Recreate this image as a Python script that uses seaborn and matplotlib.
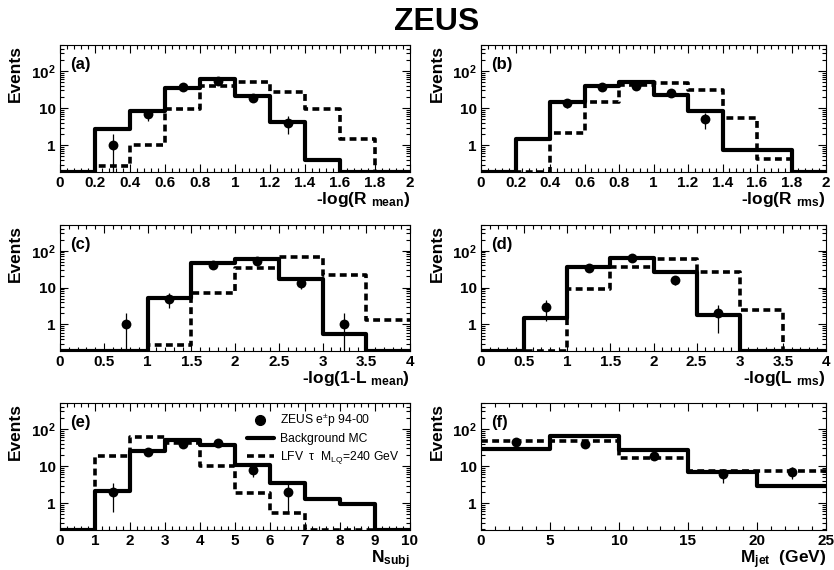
import numpy as np
import pandas as pd
import seaborn as sns
import matplotlib.pyplot as plt
from matplotlib.lines import Line2D
from matplotlib.ticker import (FixedLocator, LogLocator, NullFormatter,
                               MultipleLocator, AutoMinorLocator, FuncFormatter)

sns.set_style("ticks")
plt.rcParams['font.family'] = ['Liberation Sans', 'DejaVu Sans']
plt.rcParams['mathtext.fontset'] = 'custom'
plt.rcParams['mathtext.rm'] = 'Liberation Sans'
plt.rcParams['mathtext.default'] = 'regular'
for key in ['text.color', 'axes.labelcolor', 'xtick.color', 'ytick.color',
            'axes.edgecolor']:
    plt.rcParams[key] = 'black'

# (a) -log(R_mean), bins of 0.2 from 0 to 2
a_bkg = [0, 2.8, 8.1, 35, 62, 21, 4.3, 0.41, 0, 0]
a_lfv = [0, 0.27, 1.0, 9.4, 40, 51, 27, 9.4, 1.5, 0]
a_data = [0, 1, 7, 36, 55, 19, 4, 0, 0, 0]

# (b) -log(R_rms)
b_bkg = [0, 1.45, 15, 39, 51, 23, 8.1, 0.76, 0.76, 0]
b_lfv = [0, 0, 2.1, 14.5, 41, 48, 30, 5.3, 0.43, 0]
b_data = [0, 0, 14, 36, 40, 25, 5, 0, 0, 0]

# (c) -log(1-L_mean), bins of 0.5 from 0 to 4
c_bkg = [0, 0, 5.3, 47, 59, 17, 0.55, 0]
c_lfv = [0, 0, 0.27, 7.1, 35, 66, 22, 1.3]
c_data = [0, 1, 5, 40, 54, 13, 1, 0]

# (d) -log(L_rms)
d_bkg = [0, 1.45, 37, 63, 27, 1.85, 0, 0]
d_lfv = [0, 0, 8.9, 36, 59, 26, 2.5, 0]
d_data = [0, 3, 35, 62, 16, 2, 0, 0]

# (e) N_subj, bins of 1 from 0 to 10
e_bkg = [0, 2.2, 26, 50, 37, 10.7, 3.4, 1.28, 0.96, 0]
e_lfv = [0, 19, 59, 41, 10, 1.9, 0.56, 0, 0, 0]
e_data = [0, 2, 24, 39, 41, 8, 2, 0, 0, 0]

# (f) M_jet, bins of 5 GeV from 0 to 25
f_bkg = [28, 66, 27, 6.8, 2.9]
f_lfv = [48, 47, 17, 7.5, 7.5]
f_data = [44, 39, 19, 6, 7]

panels = [
    ("(a)", (0, 2), 10, 0.2, r"-log(R $_{mean}$)", a_bkg, a_lfv, a_data),
    ("(b)", (0, 2), 10, 0.2, r"-log(R $_{rms}$)", b_bkg, b_lfv, b_data),
    ("(c)", (0, 4), 8, 0.5, r"-log(1-L $_{mean}$)", c_bkg, c_lfv, c_data),
    ("(d)", (0, 4), 8, 0.5, r"-log(L $_{rms}$)", d_bkg, d_lfv, d_data),
    ("(e)", (0, 10), 10, 1, r"N$_{subj}$", e_bkg, e_lfv, e_data),
    ("(f)", (0, 25), 5, 5, r"M$_{jet}$  (GeV)", f_bkg, f_lfv, f_data),
]

YLO, YHI = 0.19, 500
W, H = 834, 570
col_left = [60, 481]
col_width = [350, 345]
row_top = [45, 225, 403]
row_bot = [172, 351, 530]

dash = (0, (1.9, 1.2))

fig = plt.figure(figsize=(W / 100, H / 100), dpi=100)

for i, (tag, xr, nb, major, xlabel, bkg, lfv, data) in enumerate(panels):
    r, c = divmod(i, 2)
    ax = fig.add_axes([col_left[c] / W, 1 - row_bot[r] / H,
                       col_width[c] / W, (row_bot[r] - row_top[r]) / H])
    edges = np.linspace(xr[0], xr[1], nb + 1)
    centers = 0.5 * (edges[:-1] + edges[1:])
    df = pd.DataFrame({"x": centers,
                       "bkg": np.clip(bkg, YLO, None),
                       "lfv": np.clip(lfv, YLO, None),
                       "data": np.asarray(data, dtype=float)})

    sns.histplot(data=df, x="x", weights="lfv", bins=list(edges),
                 element="step", fill=False, color="black", linewidth=2.6,
                 linestyle=dash, ax=ax)
    sns.histplot(data=df, x="x", weights="bkg", bins=list(edges),
                 element="step", fill=False, color="black", linewidth=3.0,
                 ax=ax)

    pts = df[df["data"] > 0]
    ax.errorbar(pts["x"], pts["data"], yerr=np.sqrt(pts["data"]), fmt="none",
                ecolor="black", elinewidth=0.9, capsize=0, zorder=4)
    sns.scatterplot(data=pts, x="x", y="data", color="black", s=50,
                    edgecolor="black", linewidth=0, ax=ax, zorder=5)

    ax.set_yscale("log")
    ax.set_xlim(*xr)
    ax.set_ylim(YLO, YHI)

    ax.yaxis.set_major_locator(FixedLocator([1, 10, 100]))
    ax.set_yticklabels(["1", "10", "10$^{2}$"])
    ax.yaxis.set_minor_locator(LogLocator(base=10, subs=np.arange(2, 10)))
    ax.yaxis.set_minor_formatter(NullFormatter())
    ax.xaxis.set_major_locator(MultipleLocator(major))
    ax.xaxis.set_minor_locator(AutoMinorLocator(5))
    ax.xaxis.set_major_formatter(FuncFormatter(lambda v, p: f"{v:g}"))

    ax.tick_params(which="both", direction="in", top=True, right=True,
                   width=0.8, color="black")
    ax.tick_params(which="major", length=6, labelsize=11, pad=3)
    ax.tick_params(which="minor", length=3)
    for lab in ax.get_xticklabels() + ax.get_yticklabels():
        lab.set_fontweight("bold")
    for sp in ax.spines.values():
        sp.set_linewidth(0.8)
        sp.set_color("black")

    ax.set_xlabel(xlabel, loc="right", fontsize=12.5, fontweight="bold",
                  labelpad=0)
    ax.set_ylabel("Events", loc="top", fontsize=12.5, fontweight="bold")
    ax.yaxis.set_label_coords(-0.105, 1.0)
    ax.text(0.03, 0.905, tag, transform=ax.transAxes, fontsize=12,
            fontweight="bold", va="top", ha="left")

    if tag == "(e)":
        handles = [
            Line2D([], [], marker="o", color="black", linestyle="none",
                   markersize=7),
            Line2D([], [], color="black", linewidth=3.0),
            Line2D([], [], color="black", linewidth=2.6, linestyle=dash),
        ]
        labels = [r"ZEUS e$^{\pm}$p 94-00", "Background MC",
                  r"LFV  $\tau$  M$_{LQ}$=240 GeV"]
        ax.legend(handles, labels, loc="upper left",
                  bbox_to_anchor=(0.51, 1.0), frameon=False, fontsize=8.7,
                  handlelength=2.2, handletextpad=0.5, labelspacing=0.35,
                  borderaxespad=0.3)

fig.text(437 / W, 1 - 30 / H, "ZEUS", fontsize=23, fontweight="bold",
         ha="center", va="baseline")

fig.savefig("out.png", dpi=100)
